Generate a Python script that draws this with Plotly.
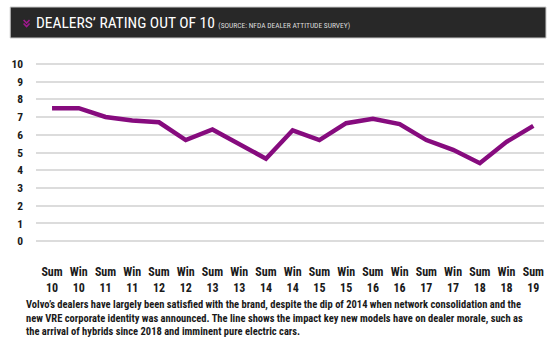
import plotly.graph_objects as go

seasons = ["Sum", "Win", "Sum", "Win", "Sum", "Win", "Sum", "Win", "Sum", "Win",
           "Sum", "Win", "Sum", "Win", "Sum", "Win", "Sum", "Win", "Sum"]
years = ["10", "10", "11", "11", "12", "12", "13", "13", "14", "14",
         "15", "15", "16", "16", "17", "17", "18", "18", "19"]
ratings = [7.5, 7.5, 7.0, 6.8, 6.7, 5.7, 6.3, 5.5, 4.65, 6.25,
           5.7, 6.65, 6.9, 6.6, 5.7, 5.15, 4.4, 5.6, 6.5]
y_ticks = [0, 1, 2, 3, 4, 5, 6, 7, 8, 9, 10]

labels = [f"{s}<br>{y}" for s, y in zip(seasons, years)]
xs = list(range(len(ratings)))

FONT = "Roboto Condensed, Open Sans Condensed, sans-serif"
INK = "#1a1a1a"

W, H = 555, 342
ML, MR, MT, MB = 32, 11, 62, 99

fig = go.Figure()
fig.add_trace(go.Scatter(
    x=xs, y=ratings, mode="lines",
    line=dict(color="#860b7e", width=4.5),
    hoverinfo="skip",
))

fig.update_layout(
    width=W, height=H,
    margin=dict(l=ML, r=MR, t=MT, b=MB),
    paper_bgcolor="white", plot_bgcolor="white",
    showlegend=False,
    font=dict(family=FONT, color=INK),
    xaxis=dict(
        range=[-0.6, 18.4], tickmode="array", tickvals=xs, ticktext=labels,
        showgrid=False, zeroline=False, showline=False, ticks="",
        ticklabelstandoff=20,
        tickfont=dict(size=12, family=FONT, color=INK, weight="bold"),
        fixedrange=True,
    ),
    yaxis=dict(
        range=[-0.1, 10.1], tickmode="array", tickvals=y_ticks,
        ticktext=[str(v) for v in y_ticks],
        showgrid=True, gridcolor="#dcdcdc", gridwidth=1.5,
        zeroline=False, showline=False, ticks="",
        ticklabelstandoff=12,
        tickfont=dict(size=11.5, family=FONT, color=INK, weight="bold"),
        fixedrange=True,
    ),
)

pw = W - ML - MR
ph = H - MT - MB
def px(x):
    return (x - ML) / pw
def py(y):
    return (H - MB - y) / ph

fig.add_shape(type="rect", xref="paper", yref="paper",
              x0=px(6), x1=px(546), y0=py(38), y1=py(7),
              fillcolor="#282828", line=dict(color="#c8c8c8", width=1), layer="above")
for dy in (0, 3.5):
    fig.add_shape(type="path", xref="paper", yref="paper",
                  path=f"M {px(19.5)} {py(20+dy)} L {px(22.5)} {py(23+dy)} L {px(25.5)} {py(20+dy)}",
                  line=dict(color="#a0188f", width=1.6), layer="above")

fig.add_annotation(xref="paper", yref="paper", x=px(30), y=py(23),
                   xanchor="left", yanchor="middle", showarrow=False,
                   text="<span style='font-size:15.5px;color:#ffffff'>DEALERS’ RATING OUT OF 10</span>"
                        "<span style='font-size:7.5px;color:#dcdcdc'>  (SOURCE: NFDA DEALER ATTITUDE SURVEY)</span>",
                   font=dict(family=FONT, color="white"))

caption = ("Volvo’s dealers have largely been satisfied with the brand, despite the dip of 2014 when network consolidation and the<br>"
           "new VRE corporate identity was announced. The line shows the impact key new models have on dealer morale, such as<br>"
           "the arrival of hybrids since 2018 and imminent pure electric cars.")
fig.add_annotation(xref="paper", yref="paper", x=px(20), y=py(296),
                   xanchor="left", yanchor="top", showarrow=False, align="left",
                   text=caption,
                   font=dict(family=FONT, size=10.5, color=INK, weight="bold"))

fig.write_html("out.html")
